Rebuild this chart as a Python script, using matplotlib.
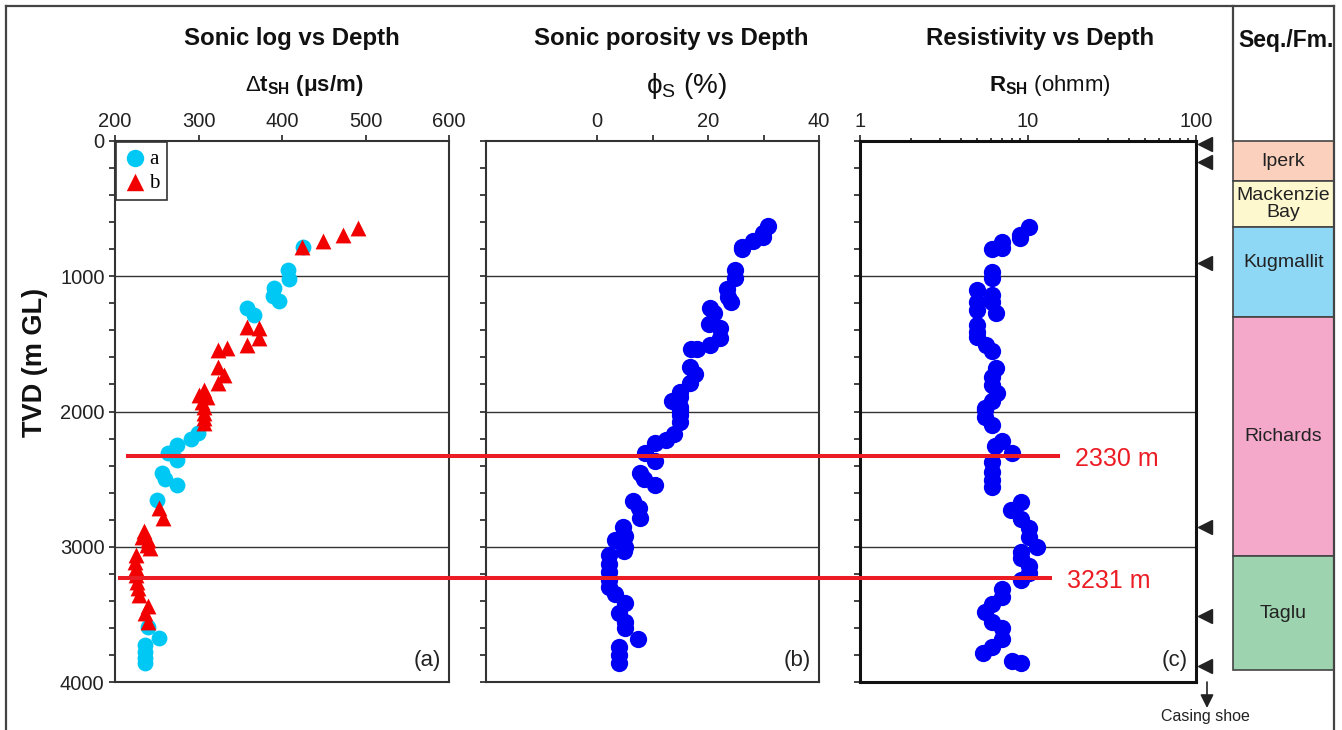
import numpy as np
import matplotlib
matplotlib.use("Agg")
import matplotlib.pyplot as plt
from matplotlib.lines import Line2D
from matplotlib.patches import Rectangle, FancyArrowPatch
from matplotlib.transforms import blended_transform_factory as blend
from matplotlib.ticker import FixedLocator, NullFormatter

plt.rcParams['font.family'] = ['Liberation Sans', 'DejaVu Sans']
plt.rcParams['mathtext.fontset'] = 'custom'
plt.rcParams['mathtext.rm'] = 'Liberation Sans'
plt.rcParams['mathtext.it'] = 'Liberation Sans:italic'
plt.rcParams['mathtext.bf'] = 'Liberation Sans:bold'

# ---------------- data ----------------
a_dt = [425, 407, 408, 390, 389, 397, 358, 366, 299, 291, 274, 264, 274,
        256, 260, 274, 250, 239, 253, 236, 236, 236, 236]
a_depth = [785, 954, 1020, 1085, 1144, 1183, 1237, 1287, 2161, 2206, 2248,
           2304, 2359, 2457, 2501, 2543, 2654, 3591, 3677, 3726, 3775, 3824, 3862]

b_dt = [491, 473, 449, 424, 358, 372, 372, 358, 323, 334, 323, 330, 323,
        306, 300, 310, 304, 306, 306, 306, 306,
        253, 257, 235, 232, 240, 238, 242,
        225, 224, 225, 225, 226, 228, 229, 239, 236, 239]
b_depth = [641, 695, 739, 781, 1373, 1385, 1459, 1508, 1545, 1533, 1669, 1730, 1792,
           1841, 1880, 1890, 1927, 1965, 2013, 2050, 2087,
           2716, 2790, 2880, 2925, 2950, 2987, 3010,
           3061, 3110, 3160, 3209, 3260, 3307, 3357, 3438, 3492, 3554]

phi = [30.9, 29.9, 29.9, 28.1, 26.2, 26.2, 24.8, 24.8, 23.4, 23.6, 24.2, 20.3,
       21.1, 20.2, 22.1, 22.1, 20.3, 17.0, 18.1, 16.8, 17.6, 16.8, 14.9, 14.9,
       13.6, 14.9, 14.9, 14.9, 14.9, 13.8, 12.5, 10.4, 8.7, 10.4, 7.7, 8.4,
       10.4, 6.5, 7.5, 7.7, 4.6, 5.0, 3.2, 5.0, 4.8, 2.2, 2.2, 2.2, 2.2, 2.2,
       3.2, 5.0, 4.0, 5.0, 5.0, 7.4, 4.0, 4.0, 4.0]
phi_depth = [628, 678, 712, 737, 781, 796, 954, 1015, 1097, 1151, 1188, 1237,
             1274, 1356, 1385, 1454, 1508, 1538, 1538, 1669, 1725, 1792, 1853, 1890,
             1922, 1989, 2026, 2075, 1964, 2169, 2211, 2235, 2305, 2366, 2457, 2501,
             2543, 2659, 2716, 2785, 2851, 2920, 2950, 2999, 3029, 3061, 3130, 3184, 3246, 3295,
             3349, 3418, 3487, 3554, 3603, 3680, 3739, 3800, 3862]

res = [10.2, 8.96, 8.96, 7.03, 7.03, 6.08, 6.08, 6.08, 4.99, 4.99, 4.99, 6.08,
       6.08, 6.42, 4.95, 4.95, 4.95, 5.6, 6.08, 6.42, 6.08, 6.08, 6.56, 6.08,
       5.55, 5.55, 5.55, 6.08, 7.03, 6.35, 8.07, 6.08, 6.08, 6.08, 6.08,
       9.04, 7.88, 9.04, 10.2, 10.2, 11.3, 9.04, 9.04, 10.2, 10.2, 9.04,
       7.03, 7.03, 6.08, 5.55, 6.08, 7.03, 7.03, 6.08, 5.43, 8.07, 9.14]
res_depth = [633, 695, 720, 744, 789, 799, 966, 1015, 1102, 1188, 1250, 1139,
             1188, 1274, 1360, 1410, 1452, 1508, 1550, 1681, 1742, 1804, 1866, 1922,
             1989, 1976, 2038, 2100, 2218, 2255, 2305, 2371, 2445, 2507, 2556,
             2667, 2728, 2797, 2864, 2926, 2999, 3036, 3085, 3140, 3191, 3246,
             3315, 3369, 3423, 3480, 3554, 3603, 3685, 3739, 3788, 3842, 3862]

marker_depths = [22, 155, 902, 2854, 3512, 3882]
line_depths = [2330, 3231]
line_labels = ['2330 m', '3231 m']

fm_names = ['Iperk', 'Mackenzie\nBay', 'Kugmallit', 'Richards', 'Taglu']
fm_tops = [0, 296, 636, 1301, 3069]
fm_bases = [296, 636, 1301, 3069, 3911]
fm_label_depth = [148, 466, 902, 2185, 3490]
fm_colors = ['#fbd0bd', '#fef8cf', '#8ed7f5', '#f4a9cb', '#9dd3ae']

depth_ticks = [0, 1000, 2000, 3000, 4000]

# ---------------- layout ----------------
W, H = 1342, 730
fig = plt.figure(figsize=(W / 100, H / 100), dpi=100)


def rect(l, r, t=141, b=682):
    return [l / W, 1 - b / H, (r - l) / W, (b - t) / H]


def fx(px):
    return px / W


def fy(py):
    return 1 - py / H


ax_a = fig.add_axes(rect(115, 449))
ax_b = fig.add_axes(rect(486, 819))
ax_c = fig.add_axes(rect(860, 1196))
ax_f = fig.add_axes(rect(1233, 1334))

TICK = 14.5
for ax in (ax_a, ax_b, ax_c):
    ax.set_ylim(4000, 0)
    ax.yaxis.set_major_locator(FixedLocator(depth_ticks))
    ax.yaxis.set_minor_locator(FixedLocator(np.arange(0, 4001, 200)))
    ax.tick_params(axis='both', which='both', direction='out', length=4.5,
                   width=1.2, labelsize=TICK, colors='#222', pad=3)
    ax.tick_params(axis='x', which='both', top=True, bottom=False,
                   labeltop=True, labelbottom=False)
    ax.tick_params(axis='y', which='both', left=True, right=False)
    for d in depth_ticks[1:-1]:
        ax.axhline(d, color='#333', lw=1.0, zorder=1)
    for s in ax.spines.values():
        s.set_color('#333')
        s.set_linewidth(1.5)

ax_b.tick_params(axis='y', labelleft=False)
ax_c.tick_params(axis='y', labelleft=False)
for s in ax_c.spines.values():
    s.set_linewidth(2.2)
    s.set_color('#111')

# panel a
ax_a.set_xlim(200, 600)
ax_a.set_xticks([200, 300, 400, 500, 600])
ax_a.scatter(a_dt, a_depth, s=130, marker='o', color='#00c8f4', lw=0, zorder=3, label='a')
ax_a.scatter(b_dt, b_depth, s=130, marker='^', color='#f20000', lw=0, zorder=4, label='b')
leg = ax_a.legend(loc='upper left', bbox_to_anchor=(0.003, 0.998), borderaxespad=0,
                  fancybox=False, edgecolor='#333', framealpha=1,
                  prop={'family': 'Liberation Serif', 'size': 15},
                  handletextpad=0.15, borderpad=0.35, labelspacing=0.2,
                  handlelength=1.1, markerscale=1.1)
leg.get_frame().set_linewidth(1.2)

# panel b
ax_b.set_xlim(-20, 40)
ax_b.set_xticks([0, 20, 40])
ax_b.xaxis.set_minor_locator(FixedLocator([10, 30]))
ax_b.scatter(phi, phi_depth, s=155, color='#0000f5', lw=0, zorder=3)

# panel c
ax_c.set_xscale('log')
ax_c.set_xlim(1, 100)
ax_c.set_xticks([1, 10, 100])
ax_c.set_xticklabels(['1', '10', '100'])
ax_c.xaxis.set_minor_locator(FixedLocator(list(range(2, 10)) + list(range(20, 100, 10))))
ax_c.xaxis.set_minor_formatter(NullFormatter())
ax_c.tick_params(axis='x', which='minor', length=2.5, top=True, bottom=False)
ax_c.scatter(res, res_depth, s=155, color='#0000f5', lw=0, zorder=3)

# panel letters
for ax, lab in ((ax_a, '(a)'), (ax_b, '(b)'), (ax_c, '(c)')):
    ax.text(0.975, 0.04, lab, transform=ax.transAxes, ha='right', va='center',
            fontsize=16, color='#222')

# casing/marker triangles right of panel c
tr = blend(ax_c.transAxes, ax_c.transData)
ax_c.plot([1.026] * len(marker_depths), marker_depths, ls='none', marker='<',
          ms=10, color='#222', transform=tr, clip_on=False, zorder=5)
fig.add_artist(FancyArrowPatch(
    (fx(1207), fy(682)), (fx(1207), fy(708)), transform=fig.transFigure,
    arrowstyle='-|>', mutation_scale=20, color='#222', lw=1.2,
    shrinkA=0, shrinkB=0))
fig.text(fx(1205), fy(716), 'Casing shoe', ha='center', va='center', fontsize=11.5, color='#222')

# red horizontal lines
tl = blend(fig.transFigure, ax_a.transData)
starts = [128, 120]
ends = [1058, 1050]
for d, lab, x0, x1 in zip(line_depths, line_labels, starts, ends):
    fig.add_artist(Line2D([fx(x0), fx(x1)], [d, d], transform=tl, color='#ec1c24',
                          lw=2.9, zorder=10))
    fig.text(fx(x1 + 17), d + 20, lab, transform=tl, ha='left', va='center',
             fontsize=18, color='#ec1c24')

# formation column
ax_f.set_xlim(0, 1)
ax_f.set_ylim(4000, 0)
ax_f.axis('off')
for name, t, b, c, ld in zip(fm_names, fm_tops, fm_bases, fm_colors, fm_label_depth):
    ax_f.add_patch(Rectangle((0, t), 1, b - t, facecolor=c, edgecolor='#444', lw=1.2,
                             clip_on=False))
    ax_f.text(0.5, ld, name, ha='center', va='center', fontsize=14, color='#222',
              linespacing=0.95)

# titles and axis labels
fig.text(fx(292), fy(39), 'Sonic log vs Depth', ha='center', va='center',
         fontsize=17.3, fontweight='bold', color='#111')
fig.text(fx(671), fy(39), 'Sonic porosity vs Depth', ha='center', va='center',
         fontsize=17.3, fontweight='bold', color='#111')
fig.text(fx(1040), fy(39), 'Resistivity vs Depth', ha='center', va='center',
         fontsize=17.3, fontweight='bold', color='#111')
fig.text(fx(1286), fy(40), 'Seq./Fm.', ha='center', va='center',
         fontsize=16.5, fontweight='bold', color='#111')

fig.text(fx(304), fy(85), r'$\Delta\mathbf{t}_{\mathbf{SH}}$ (μs/m)', ha='center',
         va='center', fontsize=16, fontweight='bold', color='#111')
fig.text(fx(686), fy(86), r'$\mathrm{\phi}_{\mathrm{S}}$ (%)', ha='center', va='center',
         fontsize=20, color='#111')
fig.text(fx(1050), fy(85), r'$\mathbf{R}_{\mathbf{SH}}$ (ohmm)', ha='center',
         va='center', fontsize=16, color='#111')
fig.text(fx(35), fy(362), 'TVD (m GL)', rotation=90, ha='center', va='center',
         fontsize=19.5, fontweight='bold', color='#111')

# outer frame
for xs, ys in (([6, 6], [6, 730]), ([6, 1334], [6, 6]), ([1334, 1334], [6, 730]),
               ([1233, 1233], [6, 141])):
    fig.add_artist(Line2D([fx(x) for x in xs], [fy(y) for y in ys], color='#444', lw=1.6))

fig.savefig('out.png', dpi=100)
